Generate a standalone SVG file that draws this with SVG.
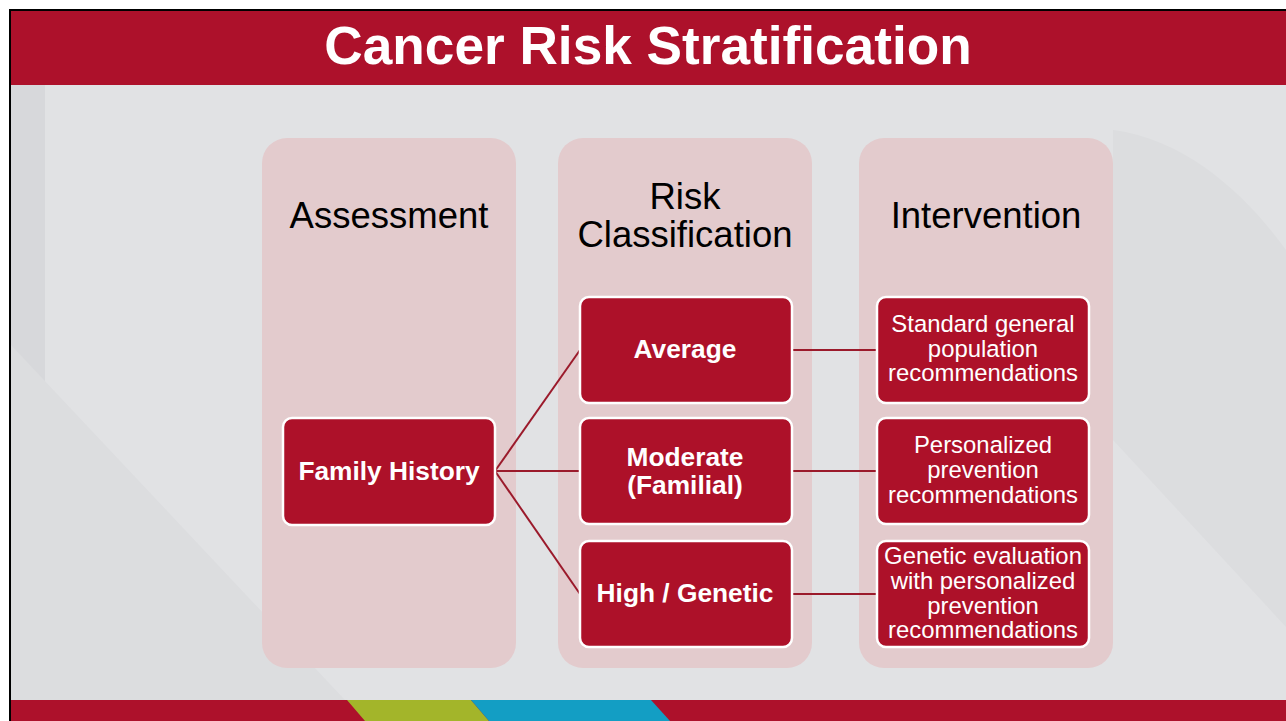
<svg xmlns="http://www.w3.org/2000/svg" width="1286" height="721" viewBox="0 0 1286 721">
  <defs>
    <style>
      .col { fill: #e3cbcd; }
      .box { fill: #ad1129; stroke: #ffffff; stroke-width: 2.5; }
      .hdr { font-family: "Liberation Sans", Arial, sans-serif; font-size: 36.5px; fill: #000000; text-anchor: middle; }
      .lbl { font-family: "Liberation Sans", Arial, sans-serif; font-size: 26.3px; font-weight: bold; fill: #ffffff; text-anchor: middle; }
      .txt { font-family: "Liberation Sans", Arial, sans-serif; font-size: 23.9px; fill: #ffffff; text-anchor: middle; }
      .con { stroke: #9b1a2b; stroke-width: 2; fill: none; }
    </style>
  </defs>

  <!-- page background and frame -->
  <rect x="0" y="0" width="1286" height="721" fill="#ffffff"/>
  <rect x="9" y="9" width="1277" height="712" fill="#000000"/>
  <rect x="11" y="11" width="1275" height="710" fill="#e1e2e4"/>
  <rect x="11" y="85" width="34" height="615" fill="#d7d8db"/>
  <polygon points="11,345 345,700 11,700" fill="#dcdddf"/>
  <path d="M1113,130 C1190,140 1250,200 1286,250 L1286,627 L1113,440 Z" fill="#dcdddf"/>

  <!-- header band -->
  <rect x="11" y="11" width="1275" height="74" fill="#ad112b"/>
  <text x="648" y="64" font-family="Liberation Sans, Arial, sans-serif" font-size="53.2" font-weight="bold" fill="#ffffff" text-anchor="middle">Cancer Risk Stratification</text>

  <!-- bottom band -->
  <rect x="11" y="700" width="1275" height="21" fill="#ad112b"/>
  <polygon points="347,700 471,700 489,721 365,721" fill="#a3b52a"/>
  <polygon points="471,700 651,700 670,721 489,721" fill="#139ec4"/>

  <!-- columns -->
  <g id="col-assessment">
    <rect class="col" x="262" y="138" width="254" height="530" rx="25"/>
    <text class="hdr" x="389" y="228">Assessment</text>
  </g>
  <g id="col-risk">
    <rect class="col" x="558" y="138" width="254" height="530" rx="25"/>
    <text class="hdr" x="685" y="209">Risk</text>
    <text class="hdr" x="685" y="247">Classification</text>
  </g>
  <g id="col-intervention">
    <rect class="col" x="859" y="138" width="254" height="530" rx="25"/>
    <text class="hdr" x="986" y="228">Intervention</text>
  </g>

  <!-- connectors -->
  <g id="connectors">
    <line class="con" x1="495" y1="471" x2="580" y2="350"/>
    <line class="con" x1="495" y1="471" x2="580" y2="471"/>
    <line class="con" x1="495" y1="471" x2="580" y2="594"/>
    <line class="con" x1="792" y1="350" x2="877" y2="350"/>
    <line class="con" x1="792" y1="471" x2="877" y2="471"/>
    <line class="con" x1="792" y1="594" x2="877" y2="594"/>
  </g>

  <!-- nodes -->
  <g id="family-history">
    <rect class="box" x="283" y="418" width="212" height="107" rx="9"/>
    <text class="lbl" x="389" y="480">Family History</text>
  </g>
  <g id="average">
    <rect class="box" x="580" y="297" width="212" height="106" rx="9"/>
    <text class="lbl" x="685" y="358">Average</text>
  </g>
  <g id="moderate">
    <rect class="box" x="580" y="418" width="212" height="106" rx="9"/>
    <text class="lbl" x="685" y="466">Moderate</text>
    <text class="lbl" x="685" y="494">(Familial)</text>
  </g>
  <g id="high">
    <rect class="box" x="580" y="541" width="212" height="106" rx="9"/>
    <text class="lbl" x="685" y="602">High / Genetic</text>
  </g>
  <g id="standard">
    <rect class="box" x="877" y="297" width="212" height="106" rx="9"/>
    <text class="txt" x="983" y="332">Standard general</text>
    <text class="txt" x="983" y="357">population</text>
    <text class="txt" x="983" y="381">recommendations</text>
  </g>
  <g id="personalized">
    <rect class="box" x="877" y="418" width="212" height="106" rx="9"/>
    <text class="txt" x="983" y="453">Personalized</text>
    <text class="txt" x="983" y="478">prevention</text>
    <text class="txt" x="983" y="503">recommendations</text>
  </g>
  <g id="genetic">
    <rect class="box" x="877" y="541" width="212" height="106" rx="9"/>
    <text class="txt" x="983" y="564">Genetic evaluation</text>
    <text class="txt" x="983" y="589">with personalized</text>
    <text class="txt" x="983" y="614">prevention</text>
    <text class="txt" x="983" y="638">recommendations</text>
  </g>
</svg>
